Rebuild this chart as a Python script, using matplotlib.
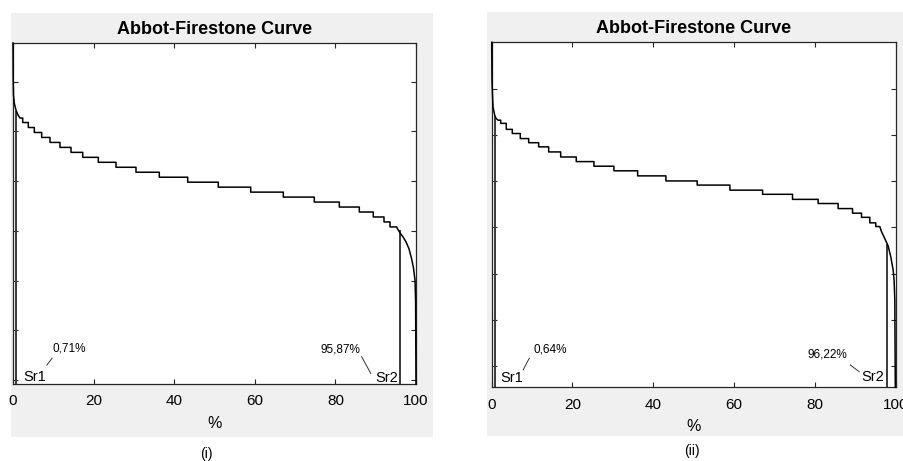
import matplotlib
matplotlib.use("Agg")
import matplotlib.pyplot as plt
from matplotlib.patches import Rectangle
import numpy as np

plt.rcParams['font.family'] = ['Liberation Sans', 'DejaVu Sans']

# ---------------- data (bearing ratio % vs. height, arbitrary height units) ----------------
# panel (i)
head_i_x = [0.0, 0.05, 0.12, 0.32, 0.74, 1.24]
head_i_y = [6.78, 6.04, 5.73, 5.57, 5.43, 5.33]
step_i_x = [1.74, 2.41, 3.80, 5.29, 7.12, 9.18, 11.66, 14.39, 17.30, 21.17, 25.56, 30.52,
            36.30, 43.35, 50.94, 58.98, 67.07, 74.76, 80.97, 85.93, 89.40, 92.06, 93.55]
step_i_y = [5.27, 5.18, 5.08, 4.98, 4.88, 4.78, 4.68, 4.58, 4.48, 4.38, 4.28, 4.18,
            4.08, 3.98, 3.88, 3.78, 3.68, 3.58, 3.48, 3.38, 3.28, 3.18, 3.08]
step_i_end = 95.21
tail_i_x = [95.29, 96.03, 96.77, 97.52, 98.26, 98.88, 99.38, 99.75, 99.90, 100.0]
tail_i_y = [3.06, 2.96, 2.88, 2.78, 2.64, 2.45, 2.25, 2.01, 1.61, -0.08]
sr_x_i = [0.74, 96.0]
sr_top_i = [5.39, 3.00]
pct_labels_i = ["0,71%", "95,87%"]

# panel (ii)
head_ii_x = [0.0, 0.07, 0.20, 0.32, 0.74, 1.06]
head_ii_y = [7.02, 6.20, 5.87, 5.62, 5.44, 5.37]
step_ii_x = [1.56, 2.23, 3.61, 5.10, 7.08, 9.16, 11.63, 14.11, 17.08, 20.94, 25.32, 30.27,
             36.14, 43.14, 50.89, 58.99, 67.08, 74.50, 80.84, 85.79, 89.36, 91.58, 93.64, 95.12]
step_ii_y = [5.33, 5.26, 5.13, 5.04, 4.93, 4.84, 4.75, 4.64, 4.53, 4.43, 4.33, 4.23,
             4.12, 4.01, 3.92, 3.81, 3.72, 3.61, 3.52, 3.41, 3.31, 3.22, 3.10, 3.02]
step_ii_end = 96.11
tail_ii_x = [96.53, 97.35, 98.17, 98.84, 99.41, 99.65, 99.83, 99.95]
tail_ii_y = [2.91, 2.76, 2.60, 2.36, 2.08, 1.86, 1.43, -0.47]
sr_x_ii = [0.74, 98.0]
sr_top_ii = [5.40, 2.62]
pct_labels_ii = ["0,64%", "96,22%"]

sr_labels = ["Sr1", "Sr2"]
x_ticks = [0, 20, 40, 60, 80, 100]
y_ticks = [0, 1, 2, 3, 4, 5, 6]
title = "Abbot-Firestone Curve"
xlabel = "%"
panel_names = ["(i)", "(ii)"]


def build_curve(hx, hy, sx, sy, send, tx, ty):
    xs, ys = list(hx), list(hy)
    for i in range(len(sx)):
        xe = sx[i + 1] if i + 1 < len(sx) else send
        xs += [sx[i], xe]
        ys += [sy[i], sy[i]]
    xs += list(tx)
    ys += list(ty)
    return np.array(xs), np.array(ys)


W, H = 904, 461
fig = plt.figure(figsize=(W / 100, H / 100), dpi=100)
fig.patch.set_facecolor("white")

# gray panel backgrounds (MATLAB figure colour)
for (x0, y0, x1, y1) in [(11, 12.7, 433.3, 436.7), (486.7, 11.7, 904, 435.5)]:
    fig.patches.append(Rectangle((x0 / W, 1 - y1 / H), (x1 - x0) / W, (y1 - y0) / H,
                                 transform=fig.transFigure, facecolor="#f0f0f0",
                                 edgecolor="none", zorder=-10))

panels = [
    dict(rect=(13, 43, 416, 384), ylim=(-0.08, 6.78),
         curve=(head_i_x, head_i_y, step_i_x, step_i_y, step_i_end, tail_i_x, tail_i_y),
         sr_x=sr_x_i, sr_top=sr_top_i, pct=pct_labels_i,
         pct_pos=[(9.9, 0.64, 'left'), (86.1, 0.62, 'right')],
         sr_pos=[(2.5, 0.06, 'left'), (95.5, 0.04, 'right')],
         leaders=[((8.4, 0.30), (9.7, 0.44)), ((86.5, 0.47), (88.8, 0.13))],
         name_pos=(206, 454)),
    dict(rect=(491.7, 42.3, 895.5, 387.3), ylim=(-0.47, 7.02),
         curve=(head_ii_x, head_ii_y, step_ii_x, step_ii_y, step_ii_end, tail_ii_x, tail_ii_y),
         sr_x=sr_x_ii, sr_top=sr_top_ii, pct=pct_labels_ii,
         pct_pos=[(10.3, 0.36, 'left'), (88.1, 0.25, 'right')],
         sr_pos=[(2.2, -0.27, 'left'), (97.1, -0.25, 'right')],
         leaders=[((7.8, -0.09), (9.3, 0.16)), ((88.8, 0.015), (91.0, -0.13))],
         name_pos=(692, 451)),
]

for k, p in enumerate(panels):
    x0, y0, x1, y1 = p["rect"]
    ax = fig.add_axes([x0 / W, 1 - y1 / H, (x1 - x0) / W, (y1 - y0) / H])
    ax.set_facecolor("white")
    cx, cy = build_curve(*p["curve"])
    ax.plot(cx, cy, color="black", lw=1.1, zorder=3, clip_on=False)
    for xs, yt in zip(p["sr_x"], p["sr_top"]):
        ax.plot([xs, xs], [p["ylim"][0], yt], color="#3a3a3a", lw=1.4, zorder=2)
    for lab, (tx, ty, ha) in zip(p["pct"], p["pct_pos"]):
        ax.text(tx, ty, lab, fontsize=8.5, ha=ha, va="center", color="black")
    for lab, (tx, ty, ha) in zip(sr_labels, p["sr_pos"]):
        ax.text(tx, ty, lab, fontsize=10.5, ha=ha, va="center", color="black")
    for (a, b) in p["leaders"]:
        ax.plot([a[0], b[0]], [a[1], b[1]], color="#333333", lw=0.7)
    ax.set_xlim(0, 100)
    ax.set_ylim(*p["ylim"])
    ax.set_xticks(x_ticks)
    ax.set_yticks(y_ticks)
    ax.set_yticklabels([])
    ax.tick_params(direction="in", top=True, right=True, length=3.5, width=0.8,
                   color="#262626", labelsize=11, pad=7.5)
    for s in ax.spines.values():
        s.set_color("#262626")
        s.set_linewidth(0.9)
    ax.set_title(title, fontsize=13, fontweight="bold", pad=6.5)
    ax.set_xlabel(xlabel, fontsize=11.5)
    ax.xaxis.label.set_va("center")
    ax.xaxis.set_label_coords(0.5, -0.115)
    fig.text(p["name_pos"][0] / W, 1 - p["name_pos"][1] / H, panel_names[k],
             fontsize=10, ha="center", va="center")

fig.savefig("out.png", dpi=100)
